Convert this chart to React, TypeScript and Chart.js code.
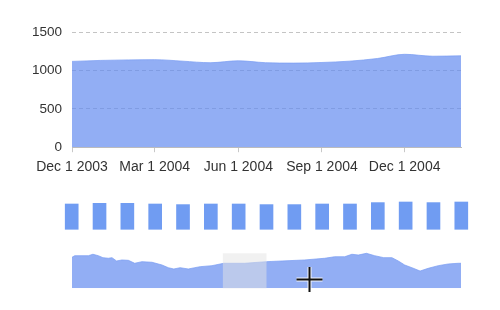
import React, { useEffect, useRef } from "react";
import { Chart, registerables } from "chart.js";

Chart.register(...registerables);

// ---- data ----
const monthLabels = [
  "Dec 2003", "Jan 2004", "Feb 2004", "Mar 2004", "Apr 2004", "May 2004", "Jun 2004",
  "Jul 2004", "Aug 2004", "Sep 2004", "Oct 2004", "Nov 2004", "Dec 2004", "Jan 2005", "Feb 2005",
];
// days since Dec 1 2003 for each month start
const monthDays = [0, 31, 62, 91, 122, 152, 183, 213, 244, 275, 305, 336, 366, 397, 428];
const mainValues = [1122, 1135, 1142, 1145, 1125, 1105, 1130, 1105, 1100, 1108, 1125, 1160, 1215, 1190, 1195];
const barValues = [1126, 1157, 1157, 1126, 1099, 1126, 1126, 1099, 1099, 1126, 1126, 1188, 1215, 1188, 1215];

const tickDays = [0, 91, 183, 275, 366];
const tickLabels = ["Dec 1 2003", "Mar 1 2004", "Jun 1 2004", "Sep 1 2004", "Dec 1 2004"];
const yTicks = [0, 500, 1000, 1500];

const miniDays = [0, 3, 11, 18, 23, 29, 34, 40, 44, 49, 55, 62, 69, 77, 88, 99, 106, 112, 119, 128, 135, 141, 154, 167, 190, 214, 231, 256, 278, 289, 300, 308, 315, 324, 333, 343, 352, 359, 366, 374, 383, 392, 403, 414, 425, 428];
const miniValues = [1164, 1183, 1183, 1183, 1200, 1183, 1160, 1153, 1160, 1121, 1133, 1129, 1094, 1113, 1106, 1074, 1042, 1027, 1042, 1027, 1042, 1054, 1066, 1094, 1094, 1113, 1121, 1133, 1153, 1171, 1171, 1200, 1191, 1211, 1183, 1160, 1160, 1121, 1074, 1042, 1003, 1035, 1066, 1086, 1094, 1094];

const selectionStart = 166;
const selectionEnd = 214;
const selectionTop = 1211;

// ---- styles ----
const FONT = "'Liberation Sans', Arial, Helvetica, sans-serif";
const AREA_FILL = "rgba(100, 140, 240, 0.7)";
const BAR_FILL = "rgb(112, 156, 242)";

Chart.defaults.font.family = FONT;
Chart.defaults.font.size = 13;
Chart.defaults.color = "#333";

const selectionPlugin = {
  id: "selectionBand",
  afterDatasetsDraw(chart: any) {
    const { ctx, chartArea, scales } = chart;
    const x1 = scales.x.getPixelForValue(selectionStart);
    const x2 = scales.x.getPixelForValue(selectionEnd);
    const y1 = scales.y.getPixelForValue(selectionTop);
    ctx.save();
    ctx.fillStyle = "rgba(228, 228, 228, 0.5)";
    ctx.fillRect(x1, y1, x2 - x1, chartArea.bottom - y1);
    ctx.restore();
  },
};

const cursorPlugin = {
  id: "cursorMark",
  afterDraw(chart: any) {
    const { ctx } = chart;
    const cx = 309.5, cy = 39.5;
    const draw = (w: number, c: string) => {
      ctx.save();
      ctx.strokeStyle = c;
      ctx.lineWidth = w;
      ctx.beginPath();
      ctx.moveTo(cx - 13, cy);
      ctx.lineTo(cx + 13, cy);
      ctx.moveTo(cx, cy - 12.5);
      ctx.lineTo(cx, cy + 12.5);
      ctx.stroke();
      ctx.restore();
    };
    draw(4, "rgba(255,255,255,0.9)");
    draw(2, "#111");
  },
};

export default function App() {
  const mainRef = useRef<HTMLCanvasElement>(null);
  const barRef = useRef<HTMLCanvasElement>(null);
  const miniRef = useRef<HTMLCanvasElement>(null);

  useEffect(() => {
    const main = new Chart(mainRef.current as HTMLCanvasElement, {
      type: "line",
      data: {
        datasets: [
          {
            data: monthDays.map((d, i) => ({ x: d, y: mainValues[i] })),
            fill: "origin",
            backgroundColor: AREA_FILL,
            borderColor: "rgba(120, 155, 242, 0.7)",
            borderWidth: 1,
            pointRadius: 0,
            cubicInterpolationMode: "monotone",
          },
        ],
      },
      options: {
        responsive: false,
        animation: false,
        events: [],
        layout: { padding: { left: 0, right: 39, top: 32.5, bottom: 0 } },
        plugins: { legend: { display: false }, tooltip: { enabled: false } },
        scales: {
          x: {
            type: "linear",
            min: monthDays[0],
            max: monthDays[monthDays.length - 1],
            afterBuildTicks: (scale: any) => {
              scale.ticks = tickDays.map((v) => ({ value: v }));
            },
            ticks: {
              autoSkip: false,
              maxRotation: 0,
              padding: 7,
              color: "#333",
              font: { size: 14 },
              callback: (v: any) => {
                const i = tickDays.indexOf(Number(v));
                return i >= 0 ? tickLabels[i] : "";
              },
            },
            grid: { drawOnChartArea: false, tickLength: 5, color: "#c8c8c8" },
            border: { display: true, color: "#bdbdbd" },
          },
          y: {
            min: 0,
            max: 1500,
            afterBuildTicks: (scale: any) => {
              scale.ticks = yTicks.map((v) => ({ value: v }));
            },
            afterFit: (scale: any) => {
              scale.width = 72;
            },
            ticks: { padding: 10, color: "#333", font: { size: 13.5 }, callback: (v: any) => String(v) },
            grid: { drawTicks: false, color: "#c4c4c4" },
            border: { display: false, dash: [4, 3] },
          },
        },
      },
    } as any);

    const bars = new Chart(barRef.current as HTMLCanvasElement, {
      type: "bar",
      data: {
        labels: monthLabels,
        datasets: [
          {
            data: barValues,
            backgroundColor: BAR_FILL,
            barThickness: 13,
            clip: false,
          } as any,
        ],
      },
      options: {
        responsive: false,
        animation: false,
        events: [],
        layout: { padding: { left: 71.7, right: 38.7, top: 15.6, bottom: 10.7 } },
        plugins: { legend: { display: false }, tooltip: { enabled: false } },
        scales: {
          x: { type: "category", offset: false, display: false },
          y: { min: 0, max: 1500, display: false },
        },
      },
    } as any);

    const mini = new Chart(miniRef.current as HTMLCanvasElement, {
      type: "line",
      data: {
        datasets: [
          {
            data: miniDays.map((d, i) => ({ x: d, y: miniValues[i] })),
            fill: "start",
            backgroundColor: AREA_FILL,
            borderColor: "rgba(120, 155, 242, 0.7)",
            borderWidth: 1,
            pointRadius: 0,
            tension: 0,
          },
        ],
      },
      options: {
        responsive: false,
        animation: false,
        events: [],
        layout: { padding: { left: 72, right: 39, top: 10, bottom: 13.7 } },
        plugins: { legend: { display: false }, tooltip: { enabled: false } },
        scales: {
          x: { type: "linear", min: 0, max: 428, display: false },
          y: { min: 800, max: 1250, display: false },
        },
      },
      plugins: [selectionPlugin, cursorPlugin],
    } as any);

    return () => {
      main.destroy();
      bars.destroy();
      mini.destroy();
    };
  }, []);

  return (
    <div
      style={{
        position: "fixed",
        left: 0,
        top: 0,
        width: 500,
        height: 310,
        background: "#fff",
        overflow: "hidden",
      }}
    >
      <canvas ref={mainRef} width={500} height={183} style={{ position: "absolute", left: 0, top: 0, width: 500, height: 183 }} />
      <canvas ref={barRef} width={500} height={60} style={{ position: "absolute", left: 0, top: 180, width: 500, height: 60 }} />
      <canvas ref={miniRef} width={500} height={62} style={{ position: "absolute", left: 0, top: 240, width: 500, height: 62 }} />
    </div>
  );
}
